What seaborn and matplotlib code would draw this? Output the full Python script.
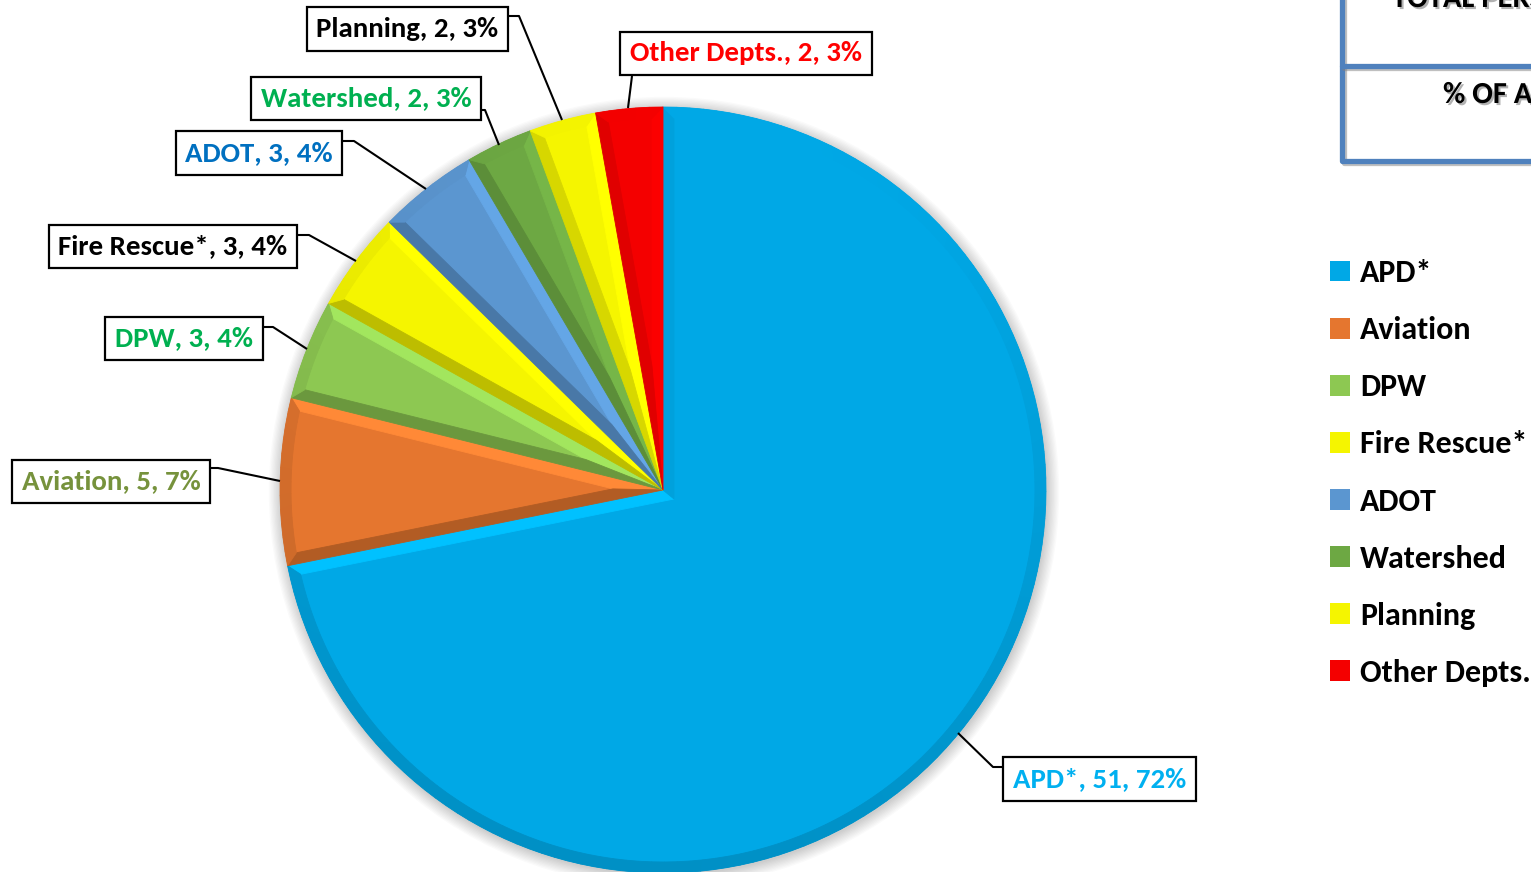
import numpy as np
import matplotlib
matplotlib.use("Agg")
import matplotlib.pyplot as plt
import matplotlib.colors as mcolors
import matplotlib.patheffects as pe
from matplotlib.patches import Polygon, Circle
import seaborn as sns

# Department staffing shares
departments = ["APD*", "Aviation", "DPW", "Fire Rescue*", "ADOT", "Watershed", "Planning", "Other Depts."]
counts = [51, 5, 3, 3, 3, 2, 2, 2]
slice_colors = ["#00A8E6", "#E5762F", "#8DC852", "#F5F500", "#5B96D0", "#6DA843", "#F5F500", "#F40000"]
label_colors = ["#00B0F0", "#76923C", "#00B050", "#000000", "#0070C0", "#00B050", "#000000", "#FF0000"]

W, H = 1531, 872
sns.set_theme(style="white")
plt.rcParams["font.family"] = ["Carlito", "DejaVu Sans"]
plt.rcParams["font.weight"] = "bold"

fig = plt.figure(figsize=(W / 100, H / 100), dpi=100)
ax = fig.add_axes([0, 0, 1, 1])


def Y(y):
    """Convert a top-down pixel row into the axes' bottom-up coordinate."""
    return H - y


cx, cy, R = 663, Y(490), 383

# soft drop shadow behind the pie
for i in range(10):
    ax.add_patch(Circle((cx + 1, cy - 2), R + 0.5 + i * 1.3, color="black",
                        alpha=0.018, lw=0, zorder=0))

wedges, _ = ax.pie(counts, colors=slice_colors, startangle=90, counterclock=False,
                   center=(cx, cy), radius=R, wedgeprops=dict(linewidth=0, zorder=1))
ax.set_xlim(0, W)
ax.set_ylim(0, H)
ax.set_aspect("auto")
ax.axis("off")

LIGHT = np.array([np.cos(np.radians(80)), np.sin(np.radians(80))])


def shade(color, d):
    rgb = np.array(mcolors.to_rgb(color))
    if d >= 0:
        return tuple(np.clip(rgb * (1 + 0.16 * d), 0, 1))
    return tuple(rgb * (1 + 0.24 * d))


def add_facet(pts, color):
    ax.add_patch(Polygon(pts, closed=True, facecolor=color, edgecolor=color,
                         lw=0.6, zorder=2))


def bevel(w, b=11.0):
    """Draw a flat bevel around a pie wedge: two side facets and an outer rim."""
    t1, t2 = np.radians(w.theta1), np.radians(w.theta2)
    C = np.array(w.center)
    r = w.r
    base = w.get_facecolor()
    a = t2 - t1
    u1 = np.array([np.cos(t1), np.sin(t1)])
    u2 = np.array([np.cos(t2), np.sin(t2)])
    n1 = np.array([-np.sin(t1), np.cos(t1)])
    n2 = np.array([np.sin(t2), -np.cos(t2)])
    m = t1 + a / 2
    p = b / np.sin(a / 2) * np.array([np.cos(m), np.sin(m)])

    def hit(u):
        pu = p @ u
        s = -pu + np.sqrt(pu ** 2 - p @ p + (r - b) ** 2)
        return p + s * u

    q1, q2 = hit(u1), hit(u2)
    a1 = t1 + ((np.arctan2(q1[1], q1[0]) - t1) % (2 * np.pi))
    a2 = t1 + ((np.arctan2(q2[1], q2[0]) - t1) % (2 * np.pi))

    # side facets
    add_facet([C, C + r * u1, C + q1, C + p], shade(base, float(-n1 @ LIGHT)))
    add_facet([C, C + r * u2, C + q2, C + p], shade(base, float(-n2 @ LIGHT)))

    # outer rim, split so the shading follows the curve
    n = max(4, int(np.degrees(a) / 2))
    phis = np.linspace(t1, t2, n + 1)
    psis = np.linspace(a1, a2, n + 1)
    for i in range(n):
        pts = [C + r * np.array([np.cos(phis[i]), np.sin(phis[i])]),
               C + r * np.array([np.cos(phis[i + 1]), np.sin(phis[i + 1])]),
               C + (r - b) * np.array([np.cos(psis[i + 1]), np.sin(psis[i + 1])]),
               C + (r - b) * np.array([np.cos(psis[i]), np.sin(psis[i])])]
        mid = (phis[i] + phis[i + 1]) / 2
        nr = np.array([np.cos(mid), np.sin(mid)])
        d = float(nr @ LIGHT)
        add_facet(pts, shade(base, -0.3 + 0.3 * d))


for w in wedges:
    bevel(w)

# data labels with leader lines
total = sum(counts)
label_pos = [(1099.5, 779), (111, 481.5), (184, 338.5), (173, 246.5),
             (259, 153), (366, 98.5), (407.5, 29), (746, 53.5)]
leaders = [
    [(1003, 767), (993, 767), (958, 733)],
    [(210, 468), (218, 468), (280, 481)],
    [(262, 327), (273, 327), (307, 349)],
    [(298, 235), (309, 235), (356, 261)],
    [(342, 141), (354, 141), (426, 189)],
    [(482, 110), (485, 110), (499, 145)],
    [(508, 16), (519, 16), (562, 120)],
    [(632, 76), (632, 76), (628, 108)],
]
for name, c, col, (lx, ly), line in zip(departments, counts, label_colors, label_pos, leaders):
    xs = [pt[0] for pt in line]
    ys = [Y(pt[1]) for pt in line]
    ax.plot(xs, ys, color="black", lw=1.5, zorder=3, solid_capstyle="butt")
    pct = round(c / total * 100)
    ax.text(lx, Y(ly), f"{name}, {c}, {pct}%", color=col, fontsize=20.8,
            fontweight="bold", ha="center", va="center", zorder=4,
            bbox=dict(boxstyle="square,pad=0.33", fc="white", ec="black", lw=1.6))

# legend
leg = ax.legend(wedges, departments, loc="center left",
                bbox_to_anchor=(1330 / W, Y(473) / H), frameon=False,
                fontsize=23, handlelength=0.63, handleheight=0.63,
                handletextpad=0.32, labelspacing=0.91, borderpad=0, borderaxespad=0)
for t in leg.get_texts():
    t.set_fontweight("bold")
    t.set_color("black")

# summary table edge at the top right
tbl_color = "#4F81BD"
shadow = [pe.SimpleLineShadow(offset=(1.5, -1.5), shadow_color="gray", alpha=0.5), pe.Normal()]
ax.plot([W + 5, 1342, 1342], [Y(161), Y(161), Y(-5)], color=tbl_color, lw=3.8,
        solid_joinstyle="round", zorder=3, path_effects=shadow)
ax.plot([1342, W + 5], [Y(66), Y(66)], color=tbl_color, lw=3.8, zorder=3, path_effects=shadow)
txt_shadow = [pe.withSimplePatchShadow(offset=(1.5, -1.5), shadow_rgbFace="gray", alpha=0.6)]
ax.text(1392, Y(7), "TOTAL PERSONNEL", fontsize=22, fontweight="bold", color="black",
        ha="left", va="baseline", path_effects=txt_shadow)
ax.text(1443, Y(103), "% OF ALL", fontsize=22, fontweight="bold", color="black",
        ha="left", va="baseline", path_effects=txt_shadow)

fig.savefig("out.png", dpi=100, facecolor="white")
